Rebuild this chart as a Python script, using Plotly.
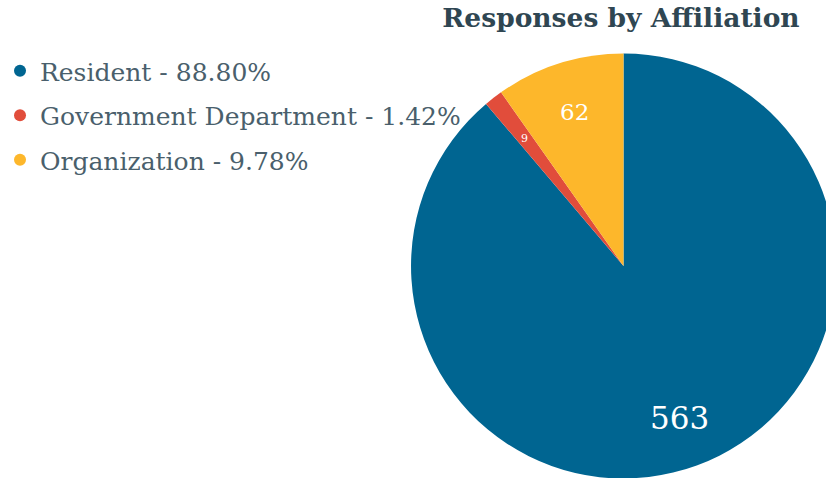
import math
import plotly.graph_objects as go

# Survey responses by affiliation
categories = ["Resident", "Government Department", "Organization"]
responses = [563, 9, 62]
colors = ["#006591", "#e14d3b", "#fdb72b"]
label_sizes = [31, 11, 23]

total = sum(responses)
legend_labels = [f"{c} - {v / total * 100:.2f}%" for c, v in zip(categories, responses)]

W, H = 840, 482
FONT = "DejaVu Serif"

# pie placement (pixels in the figure)
PX0, PX1 = 410, 836
PY0, PY1 = 53, 479
LABEL_R = 0.76  # value labels sit at this fraction of the radius

fig = go.Figure()

fig.add_trace(go.Pie(
    labels=categories,
    values=responses,
    sort=False,
    direction="clockwise",
    rotation=0,
    marker=dict(colors=colors, line=dict(width=0)),
    textinfo="none",
    showlegend=False,
    hoverinfo="label+value+percent",
    domain=dict(x=[PX0 / W, PX1 / W], y=[1 - PY1 / H, 1 - PY0 / H]),
))

# value labels placed at the angular middle of each slice
cx, cy = (PX0 + PX1) / 2, (PY0 + PY1) / 2
radius = (PX1 - PX0) / 2
cum = 0
for v, s in zip(responses, label_sizes):
    mid = (cum + v / 2) / total * 2 * math.pi
    cum += v
    x = cx + LABEL_R * radius * math.sin(mid)
    y = cy - LABEL_R * radius * math.cos(mid)
    fig.add_annotation(
        x=x / W, y=1 - y / H, xref="paper", yref="paper",
        text=str(v), showarrow=False,
        xanchor="center", yanchor="middle",
        font=dict(family=FONT, size=s, color="white"),
    )

# legend entries with round markers
for i, (lab, col) in enumerate(zip(legend_labels, colors)):
    fig.add_trace(go.Scatter(
        x=[None], y=[None], mode="markers", name=lab,
        legendgroup=f"g{i}",
        marker=dict(symbol="circle", size=11, color=col),
        hoverinfo="skip",
    ))

fig.update_layout(
    width=W, height=H,
    margin=dict(l=0, r=0, t=0, b=0),
    paper_bgcolor="white",
    plot_bgcolor="white",
    xaxis=dict(visible=False),
    yaxis=dict(visible=False),
    title=dict(
        text="<b>Responses by Affiliation</b>",
        x=621 / W, xanchor="center",
        y=1 - 18 / H, yanchor="middle",
        font=dict(family=FONT, size=26.5, color="#2f4652"),
    ),
    legend=dict(
        x=-2 / W, xanchor="left",
        y=1 - 48 / H, yanchor="top",
        font=dict(family=FONT, size=25, color="#4a5f6c"),
        tracegroupgap=9,
        itemsizing="constant",
        bgcolor="rgba(0,0,0,0)",
    ),
)

fig.write_html(
    "out.html",
    post_script="document.body.style.margin='0';document.body.style.overflow='hidden';"
                "document.documentElement.style.overflow='hidden';",
)
